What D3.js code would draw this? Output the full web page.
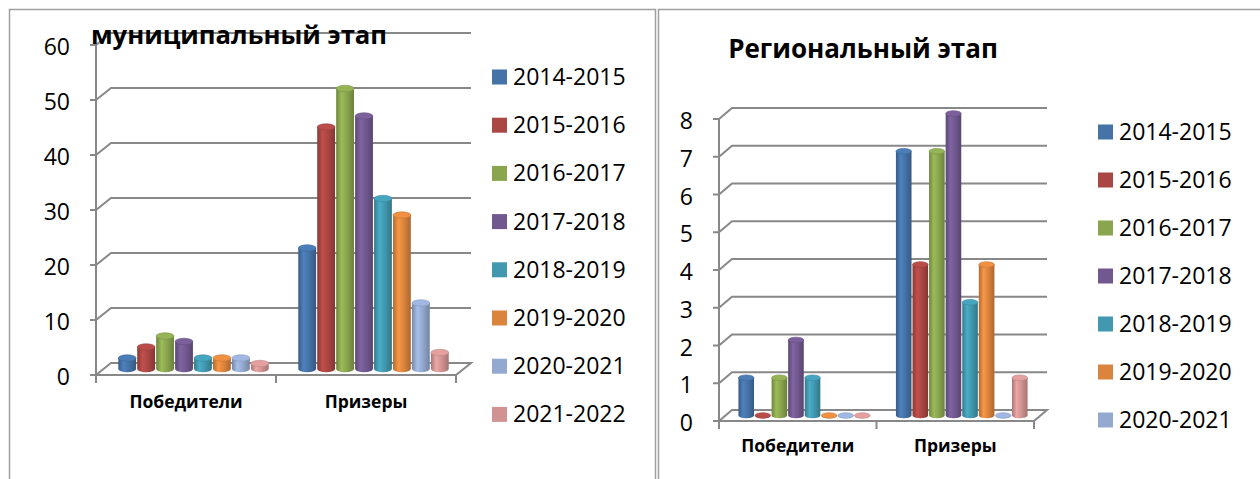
<!DOCTYPE html>
<html>
<head>
<meta charset="utf-8">
<script src="https://cdn.jsdelivr.net/npm/d3@7"></script>
<style>
  body { margin: 0; background: #fff; }
  text { font-family: "Open Sans", "Noto Sans", sans-serif; fill: #000; }
</style>
</head>
<body>
<svg id="chart" width="1260" height="479"></svg>
<script>
// ---- data ----
var categories = ["Победители", "Призеры"];
var seasons = ["2014-2015", "2015-2016", "2016-2017", "2017-2018",
               "2018-2019", "2019-2020", "2020-2021", "2021-2022"];
var seasonColors = ["#4572A7", "#AA4643", "#89A54E", "#71588F",
                    "#4198AF", "#DB843D", "#93A9CF", "#D19392"];

// муниципальный этап
var munWinners = [2, 4, 6, 5, 2, 2, 2, 1];
var munPrize   = [22, 44, 51, 46, 31, 28, 12, 3];
var munTicks   = [0, 10, 20, 30, 40, 50, 60];

// региональный этап
var regWinners = [1, 0, 1, 2, 1, 0, 0, 0];
var regPrize   = [7, 4, 7, 8, 3, 4, 0, 1];
var regTicks   = [0, 1, 2, 3, 4, 5, 6, 7, 8];

var gridColor = "#888888";

var svg = d3.select("#chart");
var defs = svg.append("defs");

// cylinder shading, one gradient per season colour
seasonColors.forEach(function(c, i) {
  var grad = defs.append("linearGradient").attr("id", "cyl" + i)
      .attr("x1", 0).attr("x2", 1).attr("y1", 0).attr("y2", 0);
  grad.append("stop").attr("offset", "0%").attr("stop-color", d3.color(c).darker(0.6));
  grad.append("stop").attr("offset", "30%").attr("stop-color", d3.color(c).brighter(0.35));
  grad.append("stop").attr("offset", "60%").attr("stop-color", c);
  grad.append("stop").attr("offset", "100%").attr("stop-color", d3.color(c).darker(0.7));
});

// outer frames of the two chart boxes
svg.append("path").attr("d", "M9.5,479V9.5H655.5V479")
    .attr("fill", "none").attr("stroke", "#a0a0a0").attr("stroke-width", 1.5);
svg.append("path").attr("d", "M658.5,479V9.5H1260")
    .attr("fill", "none").attr("stroke", "#a0a0a0").attr("stroke-width", 1.5);

function drawChart(opt) {
  var g = svg.append("g");
  var dx = opt.dx, dy = opt.dy;

  var y = d3.scaleLinear().domain([0, d3.max(opt.ticks)]).range([opt.y0, opt.y0 - opt.h]);
  var x = d3.scaleBand().domain(categories).range([opt.x0, opt.x0 + opt.w]);
  var xs = d3.scaleBand().domain(seasons).range([0, x.bandwidth()]).paddingOuter(0.75);

  // floor
  g.append("path")
    .attr("d", "M" + opt.x0 + "," + y(0) + "l" + dx + "," + dy + "H" + (opt.x0 + opt.w + dx) +
               "l" + (-dx) + "," + (-dy) + "Z")
    .attr("fill", "#fff").attr("stroke", gridColor).attr("stroke-width", 2);

  // back wall gridlines with the side-wall diagonal
  g.selectAll(".grid").data(opt.ticks.slice(1)).join("path")
      .attr("class", "grid")
      .attr("d", function(d) {
        return "M" + opt.x0 + "," + y(d) + "l" + dx + "," + dy + "H" + (opt.x0 + opt.w + dx);
      })
      .attr("fill", "none").attr("stroke", gridColor).attr("stroke-width", 2);

  // front value axis + ticks
  g.append("path").attr("d", "M" + opt.x0 + "," + y(d3.max(opt.ticks)) + "V" + (opt.y0 + 8))
      .attr("stroke", gridColor).attr("stroke-width", 2);
  g.selectAll(".ytick").data(opt.ticks).join("path")
      .attr("d", function(d) { return "M" + (opt.x0 - 6) + "," + y(d) + "H" + opt.x0; })
      .attr("stroke", gridColor).attr("stroke-width", 2);
  g.selectAll(".ylab").data(opt.ticks).join("text")
      .attr("x", opt.x0 - 26).attr("y", function(d) { return y(d) + 2; })
      .attr("dy", "0.35em").attr("text-anchor", "end")
      .style("font-size", "23px")
      .text(function(d) { return d; });

  // category ticks under the floor
  var bounds = [opt.x0].concat(categories.map(function(c) { return x(c) + x.bandwidth(); }));
  g.selectAll(".xtick").data(bounds).join("path")
      .attr("d", function(d) { return "M" + d + "," + opt.y0 + "V" + (opt.y0 + 8); })
      .attr("stroke", gridColor).attr("stroke-width", 2);
  g.selectAll(".xlab").data(categories).join("text")
      .attr("x", function(d) { return x(d) + x.bandwidth() / 2; })
      .attr("y", opt.y0 + opt.labelGap)
      .attr("text-anchor", "middle")
      .style("font-size", "17.5px").style("font-weight", "bold")
      .text(function(d) { return d; });

  // cylinders
  var bars = [];
  categories.forEach(function(c, ci) {
    opt.values[ci].forEach(function(v, si) { bars.push({cat: c, si: si, value: v}); });
  });
  var bw = xs.bandwidth() * 0.94, ry = bw * 0.18;
  var cyl = g.selectAll(".bar").data(bars).join("g").attr("class", "bar");
  cyl.each(function(d) {
    var cx = x(d.cat) + xs(seasons[d.si]) + xs.bandwidth() / 2 + dx / 2;
    var yb = y(0) + dy / 2, yt = y(d.value) + dy / 2;
    var el = d3.select(this);
    el.append("path")
      .attr("d", "M" + (cx - bw / 2) + "," + yt + "V" + yb +
                 "A" + (bw / 2) + "," + ry + " 0 0 0 " + (cx + bw / 2) + "," + yb +
                 "V" + yt + "Z")
      .attr("fill", "url(#cyl" + d.si + ")");
    el.append("ellipse")
      .attr("cx", cx).attr("cy", yt).attr("rx", bw / 2).attr("ry", ry)
      .attr("fill", d3.color(seasonColors[d.si]).brighter(0.25))
      .attr("stroke", d3.color(seasonColors[d.si]).darker(0.3)).attr("stroke-width", 0.6);
  });

  // title
  g.append("text").attr("x", opt.titleX).attr("y", opt.titleY)
      .attr("text-anchor", "middle")
      .style("font-size", opt.titleSize + "px").style("font-weight", "bold")
      .text(opt.title);

  // legend
  var leg = g.selectAll(".leg").data(seasons.slice(0, opt.legendCount)).join("g")
      .attr("transform", function(d, i) {
        return "translate(" + opt.legX + "," + (opt.legY + i * opt.legStep) + ")";
      });
  leg.append("rect").attr("x", 0).attr("y", -7.5).attr("width", 15).attr("height", 15)
      .attr("fill", function(d, i) { return seasonColors[i]; });
  leg.append("text").attr("x", 21).attr("dy", "0.35em")
      .style("font-size", "23px")
      .text(function(d) { return d; });
}

drawChart({
  title: "муниципальный этап", titleX: 239, titleY: 44, titleSize: 25.7,
  values: [munWinners, munPrize], ticks: munTicks,
  x0: 96, w: 360, y0: 375, h: 330, dx: 15, dy: -12, labelGap: 33,
  legX: 492, legY: 77, legStep: 48.2, legendCount: 8
});

drawChart({
  title: "Региональный этап", titleX: 863, titleY: 58, titleSize: 26,
  values: [regWinners, regPrize], ticks: regTicks,
  x0: 719, w: 315, y0: 421, h: 302, dx: 13, dy: -11, labelGap: 31,
  legX: 1098, legY: 132, legStep: 48, legendCount: 7
});
</script>
</body>
</html>
